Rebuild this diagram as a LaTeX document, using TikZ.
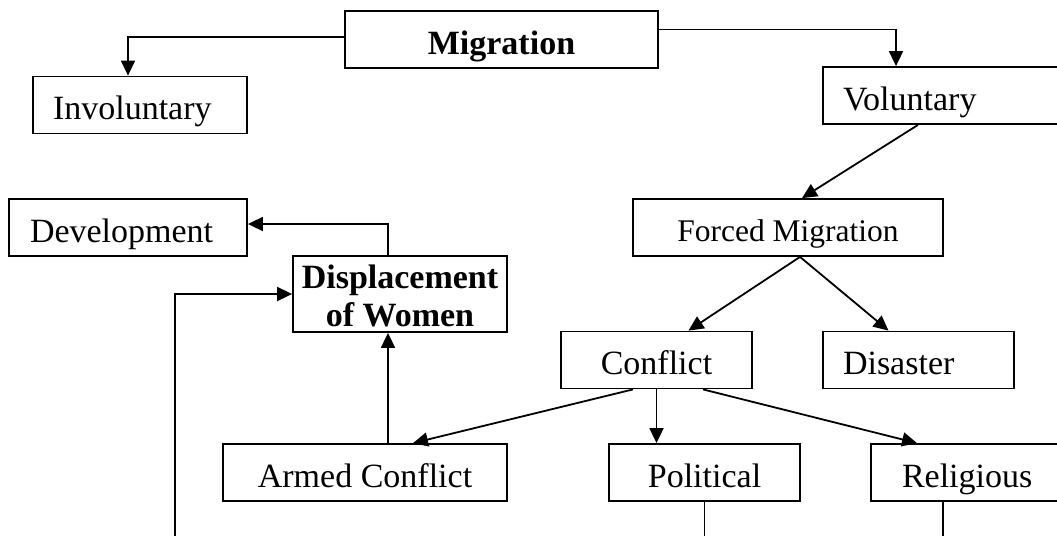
\documentclass[tikz,border=0pt]{standalone}
\usepackage{fontspec}
\setmainfont{Liberation Serif}
\usetikzlibrary{arrows.meta,positioning}

\begin{document}
\begin{tikzpicture}[x=1pt, y=-1pt,
		frame/.style={draw, line width=1.8pt, inner sep=0pt, font=\fontsize{34}{38}\selectfont},
		box/.style={frame, minimum height=57pt, text height=31pt, text depth=2pt},
		lbox/.style={box, align=left},
		link/.style={line width=1.8pt, -{Triangle[length=15pt,width=14pt]}},
		plain/.style={line width=1.8pt}]
	\useasboundingbox (0,0) rectangle (1057,536);
	\clip (0,0) rectangle (1057,536);

	% top level
	\node[box, font=\fontsize{34}{38}\selectfont\bfseries, minimum width=313pt] (mig) at (501.5,39.5) {Migration};
	\node[lbox, text width=174pt, inner xsep=20pt] (invol) at (140,105) {Involuntary};
	\node[lbox, text width=212pt, inner xsep=20pt] (vol) at (949,95.5) {Voluntary};

	% second level
	\node[box, font=\fontsize{31.5}{36}\selectfont, text height=29pt, minimum width=310pt] (forced) at (788,227.5) {Forced Migration};
	\node[lbox, text width=196pt, inner xsep=21pt] (devel) at (128,227.5) {Development};
	\node[frame, font=\fontsize{34}{38}\selectfont\bfseries, align=center, minimum width=214pt, minimum height=76pt] (displ) at (400,294) {\rule{0pt}{27pt}Displacement\\of Women};

	% causes
	\node[box, minimum width=191pt] (confl) at (656.5,360) {Conflict};
	\node[lbox, text width=151pt, inner xsep=20pt] (disas) at (918.5,360) {Disaster};
	\node[box, minimum width=284pt] (armed) at (365,472.5) {Armed Conflict};
	\node[box, minimum width=191pt] (polit) at (704.5,472.5) {Political};
	\node[lbox, text width=138pt, inner xsep=31pt] (relig) at (971,472.5) {Religious};

	\coordinate (floor) at (0,536);
	\coordinate (feed) at (175,536);

	% connectors
	\draw[link] ([yshift=2.5pt]mig.west) -| ([xshift=-12pt]invol.north);
	\draw[link] ([yshift=10pt]mig.east) -| ([xshift=-53pt]vol.north);
	\draw[link] ([xshift=-31pt]vol.south) -- ([xshift=14pt]forced.north);
	\draw[link] ([xshift=12pt]forced.south) -- ([xshift=32pt]confl.north);
	\draw[link] ([xshift=12pt]forced.south) -- ([xshift=-30pt]disas.north);
	\draw[link] ([xshift=-23.5pt]confl.south) -- ([xshift=48pt]armed.north);
	\draw[link] (confl.south) -- (confl.south |- polit.north);
	\draw[link] ([xshift=46.5pt]confl.south) -- ([xshift=-54pt]relig.north);
	\draw[link] ([xshift=23pt]armed.north) -- ([xshift=23pt]armed.north |- displ.south);
	\draw[link] ([xshift=-12pt]displ.north) |- ([yshift=3.5pt]devel.east);
	\draw[link] (feed) |- (displ.west);
	\draw[plain] (polit.south) -- (polit.south |- floor);
	\draw[plain] ([xshift=-28pt]relig.south) -- ([xshift=-28pt]relig.south |- floor);
\end{tikzpicture}
\end{document}
